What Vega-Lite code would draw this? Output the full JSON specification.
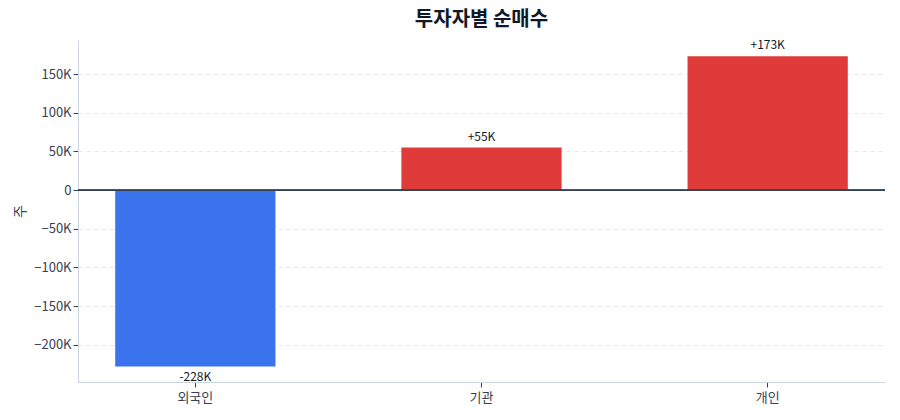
{
  "$schema": "https://vega.github.io/schema/vega-lite/v6.json",
  "autosize": {"type": "none"},
  "width": 807,
  "height": 342,
  "padding": {"left": 78, "top": 40, "right": 15, "bottom": 38},
  "background": "white",
  "config": {
    "font": "Noto Sans CJK KR",
    "view": {"stroke": null}
  },
  "title": {
    "text": "투자자별 순매수",
    "fontSize": 20,
    "fontWeight": "bold",
    "color": "#111827",
    "offset": 9,
    "anchor": "middle"
  },
  "data": {
    "values": [
      {"investor": "외국인", "value": -228000, "label": "-228K"},
      {"investor": "기관", "value": 55000, "label": "+55K"},
      {"investor": "개인", "value": 173000, "label": "+173K"}
    ]
  },
  "layer": [
    {
      "mark": {"type": "bar"},
      "encoding": {
        "x": {
          "field": "investor",
          "type": "nominal",
          "sort": null,
          "scale": {"paddingInner": 0.44, "paddingOuter": 0.13},
          "axis": {
            "title": null,
            "labelAngle": 0,
            "labelFontSize": 13,
            "labelColor": "#374151",
            "domainColor": "#cbd5e1",
            "tickColor": "#374151",
            "tickSize": 5,
            "labelPadding": 4,
            "grid": false
          }
        },
        "y": {
          "field": "value",
          "type": "quantitative",
          "scale": {"domain": [-248000, 194000], "nice": false, "zero": false},
          "axis": {
            "title": "주",
            "titleFontSize": 14,
            "titleFontWeight": "normal",
            "titleColor": "#374151",
            "titlePadding": 6,
            "values": [-200000, -150000, -100000, -50000, 0, 50000, 100000, 150000],
            "labelExpr": "datum.value == 0 ? '0' : format(datum.value / 1000, 'd') + 'K'",
            "labelFontSize": 13,
            "labelColor": "#374151",
            "domainColor": "#cbd5e1",
            "tickColor": "#374151",
            "tickSize": 5,
            "gridColor": "#e5e7eb",
            "gridDash": [4, 4]
          }
        },
        "color": {
          "condition": {"test": "datum.value < 0", "value": "#3b73ec"},
          "value": "#e03b3b"
        }
      }
    },
    {
      "mark": {"type": "rule", "color": "#334155", "strokeWidth": 1.2},
      "encoding": {"y": {"datum": 0, "type": "quantitative"}}
    },
    {
      "transform": [{"filter": "datum.value >= 0"}],
      "mark": {"type": "text", "baseline": "bottom", "dy": -4, "fontSize": 12, "color": "#111827"},
      "encoding": {
        "x": {"field": "investor", "type": "nominal", "sort": null},
        "y": {"field": "value", "type": "quantitative"},
        "text": {"field": "label"}
      }
    },
    {
      "transform": [{"filter": "datum.value < 0"}],
      "mark": {"type": "text", "baseline": "top", "dy": 5, "fontSize": 12, "color": "#111827"},
      "encoding": {
        "x": {"field": "investor", "type": "nominal", "sort": null},
        "y": {"field": "value", "type": "quantitative"},
        "text": {"field": "label"}
      }
    }
  ]
}
